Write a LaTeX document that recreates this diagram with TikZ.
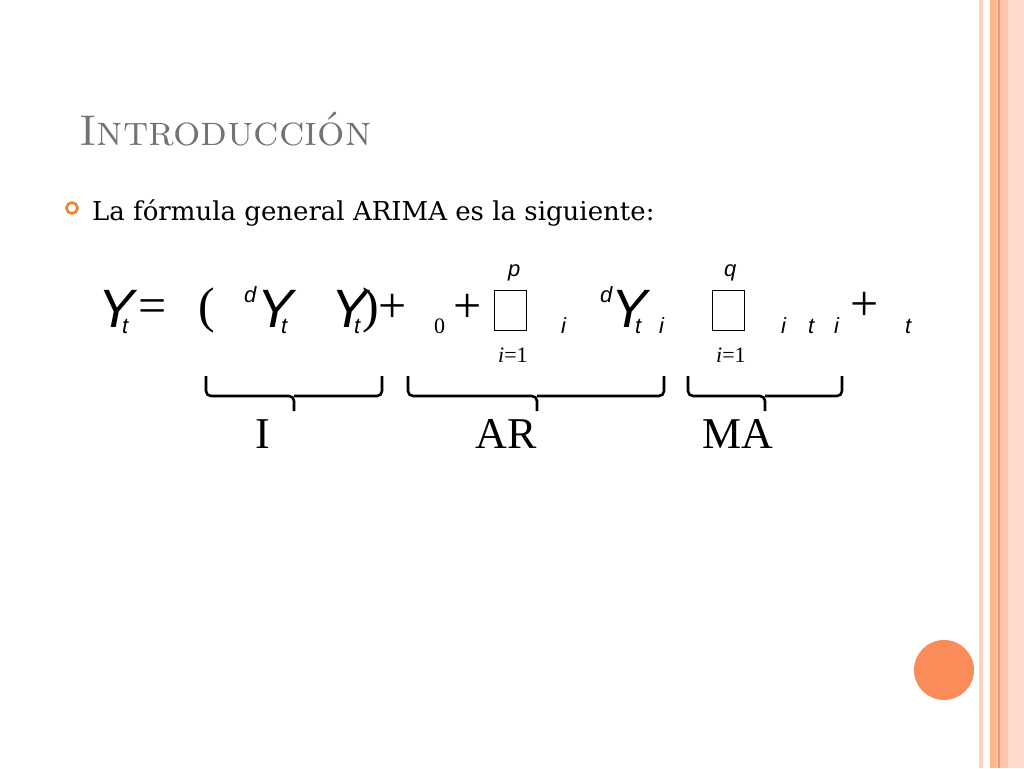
\documentclass[tikz,border=0pt]{standalone}
\usepackage{fontspec}
\newfontfamily\sansf{Liberation Sans}
\newfontfamily\serf{Liberation Serif}
\newfontfamily\bodyf{DejaVu Serif}
\definecolor{salmon}{RGB}{250,140,90}
\definecolor{bulletc}{RGB}{245,130,40}
\begin{document}
\begin{tikzpicture}[x=1pt,y=-1pt,
  big/.style={anchor=base west,inner sep=0,font=\fontsize{54}{54}\sansf\itshape},
  sub/.style={anchor=base west,inner sep=0,font=\fontsize{22}{22}\sansf\itshape},
  op/.style={anchor=base west,inner sep=0,font=\fontsize{50}{50}\serf},
  sop/.style={anchor=base west,inner sep=0,font=\fontsize{22}{22}\serf},
  brace/.style={line width=2.6pt,rounded corners=5pt},
  lab/.style={anchor=base,inner sep=0,font=\fontsize{44}{44}\serf}]
\useasboundingbox (0,0) rectangle (1024,768);
\fill[white] (0,0) rectangle (1024,768);
% right border
\fill[orange!25!pink!60] (979,0) rectangle (983,768);
\fill[orange!30!pink!70] (990,0) rectangle (1024,768);
\fill[orange!45!pink!80] (990,0) rectangle (996,768);
\fill[orange!60!red!60] (998,0) rectangle (999.5,768);
\fill[orange!20!pink!50] (1008,0) rectangle (1024,768);
% orange circle
\fill[salmon] (944,670) circle (30);
% title
\node[anchor=base west,inner sep=0,text=black!55,font=\fontsize{43}{43}\selectfont\scshape] (title) at (79,145) {Introducción};
% bullet
\draw[bulletc,line width=2.6pt] (72,208) circle (5.5);
\node[anchor=base west,inner sep=0,font=\fontsize{26}{26}\bodyf] (txt) at (92,220) {La fórmula general ARIMA es la siguiente:};
% formula
\node[big] at (98,327) {Y};
\node[sub] at (122,333) {t};
\node[op] at (138,322) {=};
\node[op] at (198,322) {(};
\node[sub] at (244,302) {d};
\node[big] at (257,327) {Y};
\node[sub] at (281,333) {t};
\node[big] at (331,327) {Y};
\node[sub] at (354,333) {t};
\node[op] at (362,322) {)};
\node[op] at (378,322) {+};
\node[sop] at (434,333) {0};
\node[op] at (453,322) {+};
\draw[line width=0.6pt] (494,290) rectangle (526,330);
\node[sub] at (508,276) {p};
\node[sop] at (498,362) {\itshape i\upshape=1};
\node[sub] at (561,333) {i};
\node[sub] at (600,302) {d};
\node[big] at (611,327) {Y};
\node[sub] at (635,333) {t};
\node[sub] at (659,333) {i};
\draw[line width=0.6pt] (712,290) rectangle (744,330);
\node[sub] at (724,276) {q};
\node[sop] at (716,362) {\itshape i\upshape=1};
\node[sub] at (781,333) {i};
\node[sub] at (808,333) {t};
\node[sub] at (834,333) {i};
\node[op] at (850,320) {+};
\node[sub] at (905,333) {t};
% braces
\draw[brace] (206,376) -- (206,396) -- (294,396) -- (294,411);
\draw[brace] (382,376) -- (382,396) -- (294,396);
\draw[brace] (408,376) -- (408,396) -- (537,396) -- (537,411);
\draw[brace] (664,376) -- (664,396) -- (537,396);
\draw[brace] (688,376) -- (688,396) -- (765,396) -- (765,411);
\draw[brace] (842,376) -- (842,396) -- (765,396);
\node[lab] (I) at (263,448) {I};
\node[lab] (AR) at (506,448) {AR};
\node[lab] (MA) at (738,448) {MA};
\end{tikzpicture}
\end{document}
